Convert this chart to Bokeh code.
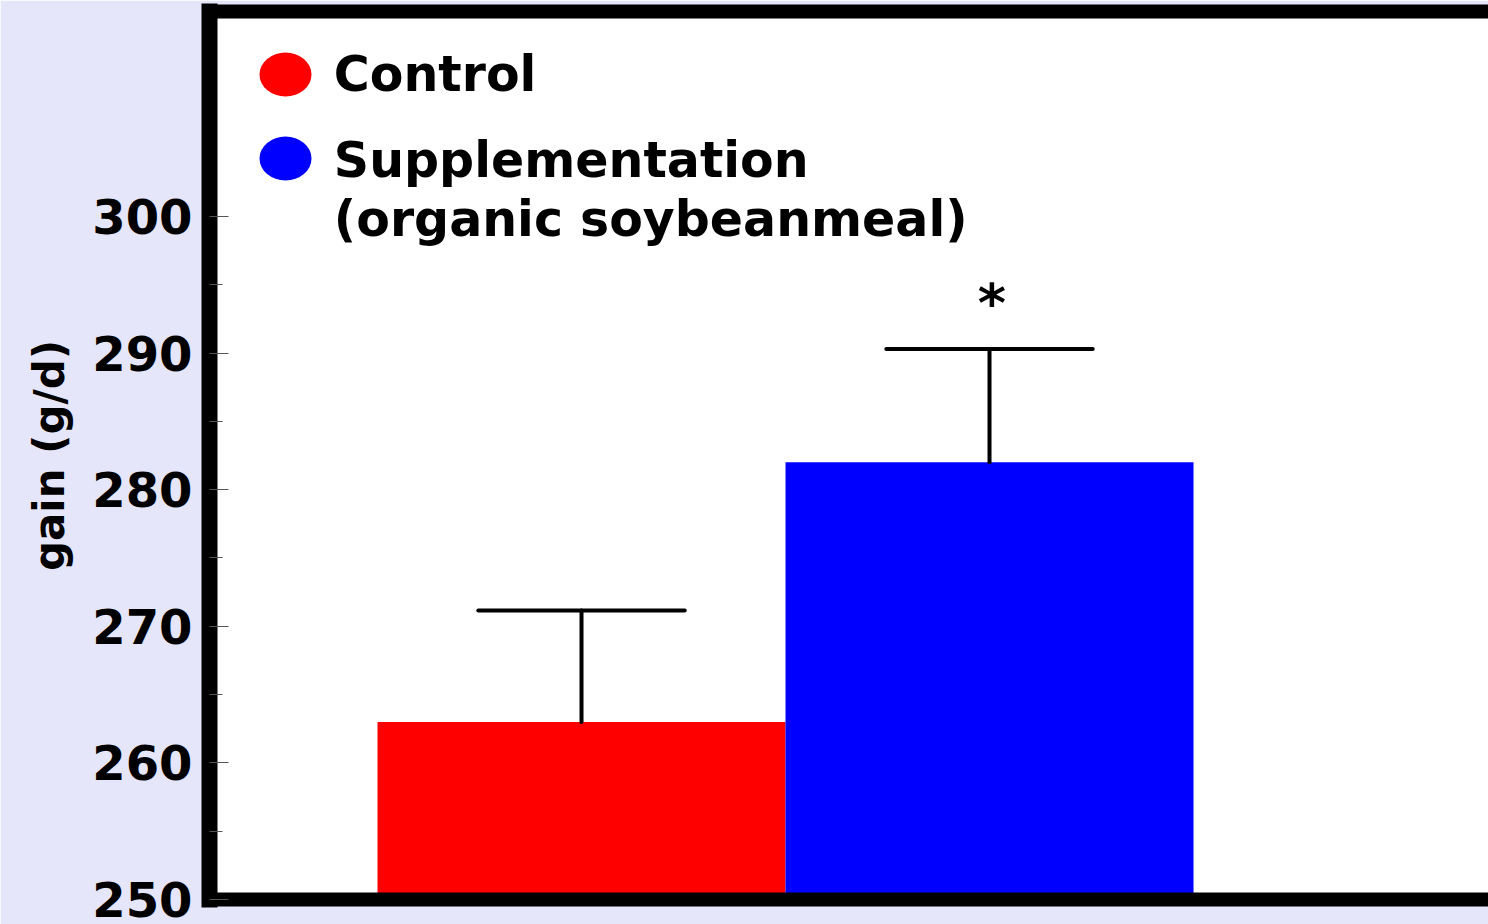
from bokeh.plotting import figure
from bokeh.models import Range1d, FixedTicker, LinearAxis, ColumnDataSource
from bokeh.core.properties import value
from bokeh.embed import file_html
from bokeh.resources import INLINE

# ---- data ----
groups = ["Control", "Supplementation\n(organic soybeanmeal)"]
group_x = [1, 2]
means = [263.0, 282.0]
err_upper = [271.15, 290.3]
colors = ["#FF0000", "#0000FF"]
signif = ["", "*"]
y_ticks = [250, 260, 270, 280, 290, 300]
y_minor = [255, 265, 275, 285, 295]
y_label = "gain (g/d)"

FONT = "DejaVu Sans"

p = figure(width=1488, height=924, output_backend="svg", toolbar_location=None,
           x_range=Range1d(0.0882, 3.223), y_range=Range1d(250, 315),
           min_border_left=209, min_border_right=0, min_border_top=11, min_border_bottom=25,
           background_fill_color="white", border_fill_color="#E6E6FA",
           x_axis_location=None, y_axis_location=None)
p.outline_line_color = None
p.xgrid.grid_line_color = None
p.ygrid.grid_line_color = None

# bars
src = ColumnDataSource(dict(x=group_x, top=means, color=colors))
p.vbar(x="x", top="top", bottom=250, width=1.0, fill_color="color", line_color=None, source=src)

# error bars
p.segment(x0=group_x, y0=means, x1=group_x, y1=err_upper, line_color="black",
          line_width=4, line_cap="round")
p.segment(x0=[x - 0.253 for x in group_x], y0=err_upper,
          x1=[x + 0.253 for x in group_x], y1=err_upper,
          line_color="black", line_width=4, line_cap="round")

# significance star
p.text(x=[x + 0.006 for x in group_x], y=[e + 3.34 for e in err_upper], text=signif,
       text_align="center", text_baseline="alphabetic", text_font=value(FONT),
       text_font_style="bold", text_font_size="54px", text_color="black")

# legend (manual)
leg_x_marker = 0.2745
leg_x_text = 0.393
leg_y = [310.39, 304.24]
p.ellipse(x=[leg_x_marker] * 2, y=leg_y, width=52, height=44,
          width_units="screen", height_units="screen",
          fill_color=colors, line_color=None)
leg_lines = ["Control", "Supplementation", "(organic soybeanmeal)"]
leg_line_y = [310.42, 304.13, 299.8]
p.text(x=[leg_x_text] * 3, y=leg_line_y, text=leg_lines, text_align="left",
       text_baseline="alphabetic", text_font=value(FONT), text_font_style="bold",
       text_font_size="49px", text_color="black")

# left axis with frame border
ya = LinearAxis(ticker=FixedTicker(ticks=y_ticks, minor_ticks=y_minor))
ya.axis_line_width = 16
ya.axis_line_color = "black"
ya.axis_line_cap = "square"
ya.major_tick_in = 19
ya.major_tick_out = 0
ya.minor_tick_in = 13
ya.minor_tick_out = 0
ya.major_tick_line_color = "#555555"
ya.minor_tick_line_color = "#555555"
ya.major_tick_line_width = 1
ya.minor_tick_line_width = 1
ya.major_label_text_font = FONT
ya.major_label_text_font_style = "bold"
ya.major_label_text_font_size = "48px"
ya.major_label_text_color = "black"
ya.major_label_standoff = 17
ya.axis_label = y_label
ya.axis_label_text_font = FONT
ya.axis_label_text_font_style = "bold"
ya.axis_label_text_font_size = "42px"
ya.axis_label_text_color = "black"
ya.axis_label_standoff = 15
p.add_layout(ya, "left")

# top and bottom border lines
for loc, w in (("above", 14), ("below", 14)):
    ax = LinearAxis(ticker=FixedTicker(ticks=[]))
    ax.axis_line_width = w
    ax.axis_line_color = "black"
    ax.axis_line_cap = "square"
    ax.major_tick_in = 0
    ax.major_tick_out = 0
    ax.minor_tick_in = 0
    ax.minor_tick_out = 0
    ax.major_label_standoff = 0
    ax.major_label_text_font_size = "0px"
    p.add_layout(ax, loc)

open("out.html", "w").write(file_html(p, INLINE))
